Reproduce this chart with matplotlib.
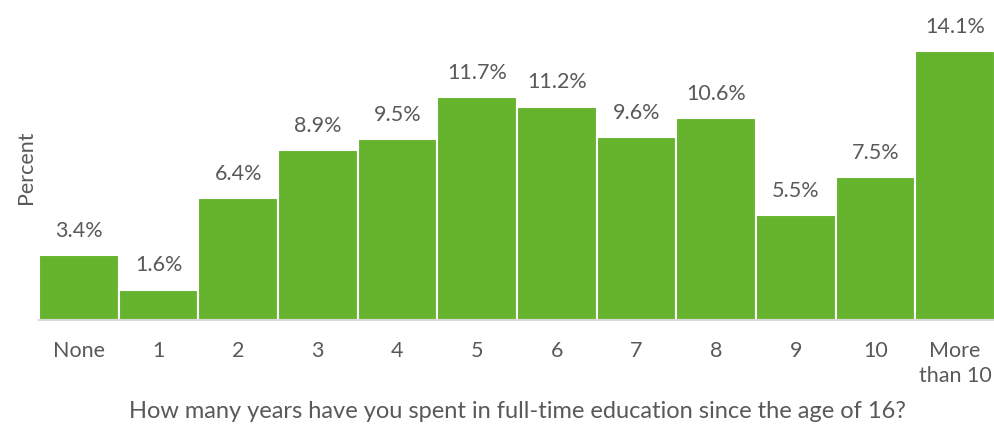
import matplotlib
matplotlib.use("Agg")
import matplotlib.pyplot as plt

# data
categories = ["None", "1", "2", "3", "4", "5", "6", "7", "8", "9", "10", "More\nthan 10"]
percent = [3.4, 1.6, 6.4, 8.9, 9.5, 11.7, 11.2, 9.6, 10.6, 5.5, 7.5, 14.1]

green = "#66b32e"
grey_text = "#595959"

plt.rcParams["font.family"] = ["Lato", "DejaVu Sans"]

fig = plt.figure(figsize=(9.95, 4.26), dpi=100)
ax = fig.add_axes([39 / 995, 106 / 426, 956 / 995, 305 / 426])

x = range(len(categories))
bars = ax.bar(x, percent, width=1.0, color=green, edgecolor="white", linewidth=1.5)

for xi, v in zip(x, percent):
    ax.text(xi, v + 0.75, "%.1f%%" % v, ha="center", va="bottom", fontsize=15.5, color=grey_text)

ax.set_xlim(-0.5, len(categories) - 0.5)
ax.set_ylim(0, 16)
ax.set_yticks([])
ax.set_xticks(list(x))
ax.set_xticklabels(categories, fontsize=15.5, color=grey_text, linespacing=1.3)
ax.tick_params(axis="x", length=0, pad=15)

for s in ["top", "right", "left"]:
    ax.spines[s].set_visible(False)
ax.spines["bottom"].set_color("#d9d9d9")
ax.spines["bottom"].set_linewidth(1.5)

ax.set_ylabel("Percent", fontsize=15.5, color=grey_text, labelpad=2)
ax.set_xlabel("How many years have you spent in full-time education since the age of 16?",
              fontsize=17, color=grey_text, labelpad=11)

fig.savefig("out.png", dpi=100)
